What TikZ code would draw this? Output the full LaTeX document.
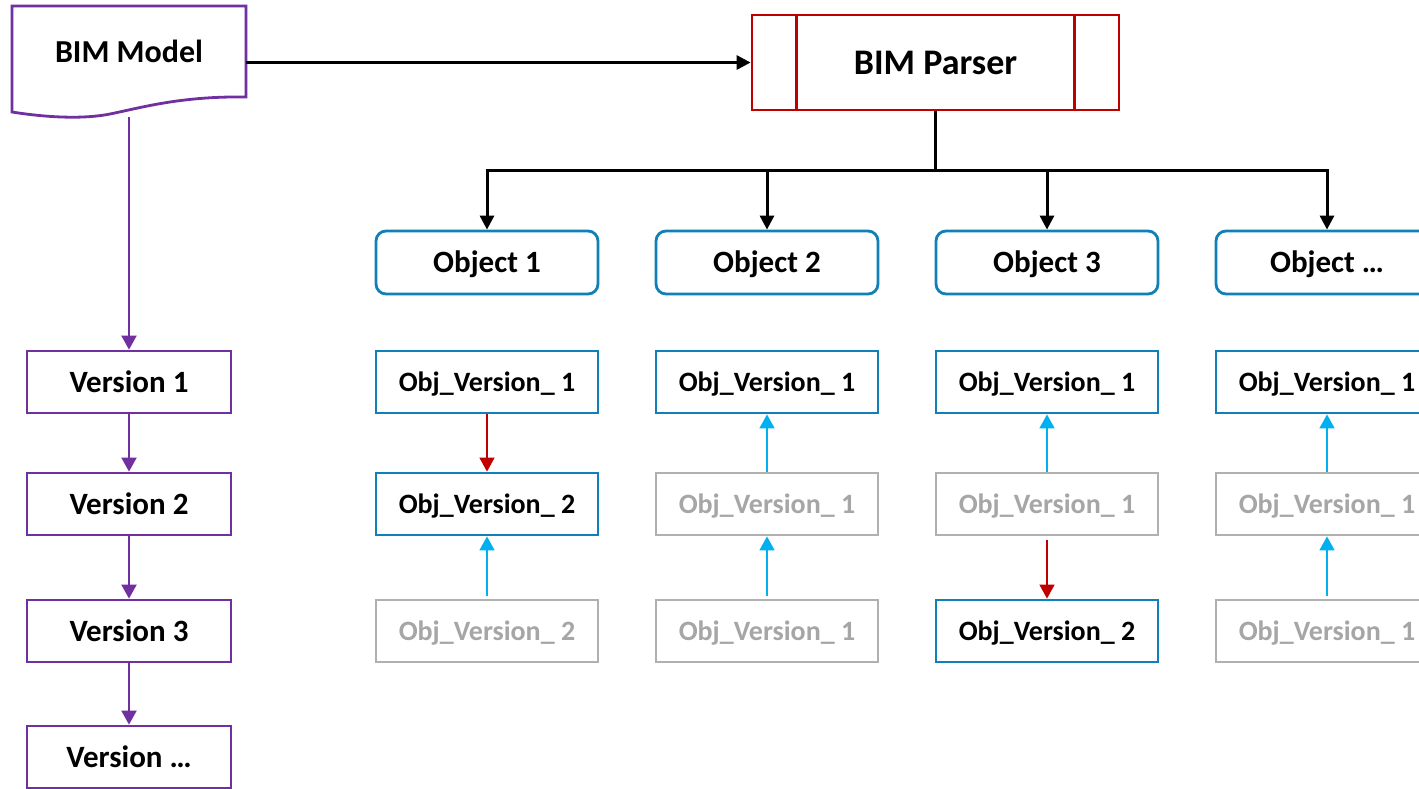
\documentclass[tikz,border=0pt]{standalone}
\usepackage{fontspec}
\setmainfont{Carlito}
\usetikzlibrary{arrows.meta,calc}
\definecolor{bpurple}{RGB}{112,48,160}
\definecolor{bred}{RGB}{192,0,0}
\definecolor{bblue}{RGB}{16,128,182}
\definecolor{bcyan}{RGB}{0,176,240}
\definecolor{bgrey}{RGB}{176,176,176}
\definecolor{bgreytext}{RGB}{166,166,166}
\begin{document}
\begin{tikzpicture}[x=1pt,y=-1pt,
  objbox/.style={text height=20pt, text depth=0pt, draw=bblue, line width=2.8pt, rounded corners=10pt, minimum width=222pt, minimum height=63pt, inner sep=0pt, font=\fontsize{31}{36}\selectfont\bfseries},
  verbox/.style={text height=18pt, text depth=0pt, draw=bblue, line width=2.8pt, minimum width=222pt, minimum height=62pt, inner sep=0pt, font=\fontsize{28}{33}\selectfont\bfseries},
  oldbox/.style={verbox, draw=bgrey, text=bgreytext},
  vbox/.style={text height=20pt, text depth=0pt, draw=bpurple, line width=2.8pt, minimum width=204pt, minimum height=62pt, inner sep=0pt, font=\fontsize{31}{36}\selectfont\bfseries},
  parr/.style={draw=bpurple, line width=2pt, -{Triangle[width=15pt,length=14pt]}},
  karr/.style={draw=black, line width=3pt, -{Triangle[width=14pt,length=14pt]}},
  rarr/.style={draw=bred, line width=1.5pt, -{Triangle[width=15pt,length=14pt]}},
  carr/.style={draw=bcyan, line width=1.5pt, -{Triangle[width=15pt,length=14pt]}},
]
\clip (0,0) rectangle (1419,788);
\fill[white] (0,0) rectangle (1419,788);

% BIM Model document shape
\draw[bpurple, line width=2.8pt] (12,6) -- (246,6) -- (246,97)
  .. controls (180,96) and (140,108) .. (110,114)
  .. controls (85,119) and (50,118) .. (12,112) -- cycle;
\node[text height=20.6pt, text depth=0pt, minimum width=234pt, minimum height=20pt, inner sep=0pt, font=\fontsize{32}{37}\selectfont\bfseries] (bm) at (129,52.5) {BIM Model};
\coordinate (bmbot) at (129,117);

% BIM Parser
\node[text height=23pt, text depth=0pt, draw=bred, line width=2.8pt, minimum width=367pt, minimum height=95pt, inner sep=0pt, font=\fontsize{36}{41}\selectfont\bfseries] (parser) at (935.5,62.5) {BIM Parser};
\draw[bred, line width=2.8pt] ($(parser.north west)+(46,0)$) -- ($(parser.south west)+(46,0)$);
\draw[bred, line width=2.8pt] ($(parser.north east)+(-46,0)$) -- ($(parser.south east)+(-46,0)$);

\draw[karr] (bm.east |- parser.west) -- (parser.west);

% Objects
\node[objbox] (o1) at (487,262.5) {Object 1};
\node[objbox] (o2) at (767,262.5) {Object 2};
\node[objbox] (o3) at (1047,262.5) {Object 3};
\node[objbox] (o4) at (1327,262.5) {Object \dots};

\draw[black, line width=3pt] (parser.south) -- (parser.south |- 0,170) coordinate (bus);
\draw[black, line width=3pt, line cap=rect] (bus -| o1) -- (bus -| o4);
\foreach \o in {o1,o2,o3,o4} \draw[karr] (bus -| \o) -- (\o.north);

% Versions
\node[vbox] (v1) at (129,382) {Version 1};
\node[vbox] (v2) at (129,504) {Version 2};
\node[vbox] (v3) at (129,631) {Version 3};
\node[vbox] (v4) at (129,757) {Version \dots};
\draw[parr] (bmbot) -- (v1.north);
\draw[parr] (v1.south) -- (v2.north);
\draw[parr] (v2.south) -- (v3.north);
\draw[parr] (v3.south) -- (v4.north);

% Column 1
\node[verbox] (a1) at (487,382) {Obj\_Version\_ 1};
\node[verbox] (a2) at (487,504) {Obj\_Version\_ 2};
\node[oldbox] (a3) at (487,631) {Obj\_Version\_ 2};
\draw[rarr] (a1.south) -- (a2.north);
\draw[carr, shorten <=3pt] (a3.north) -- (a2.south);

% Column 2
\node[verbox] (b1) at (767,382) {Obj\_Version\_ 1};
\node[oldbox] (b2) at (767,504) {Obj\_Version\_ 1};
\node[oldbox] (b3) at (767,631) {Obj\_Version\_ 1};
\draw[carr] (b2.north) -- (b1.south);
\draw[carr, shorten <=3pt] (b3.north) -- (b2.south);

% Column 3
\node[verbox] (c1) at (1047,382) {Obj\_Version\_ 1};
\node[oldbox] (c2) at (1047,504) {Obj\_Version\_ 1};
\node[verbox] (c3) at (1047,631) {Obj\_Version\_ 2};
\draw[carr] (c2.north) -- (c1.south);
\draw[rarr, shorten <=4pt] (c2.south) -- (c3.north);

% Column 4
\node[verbox] (d1) at (1327,382) {Obj\_Version\_ 1};
\node[oldbox] (d2) at (1327,504) {Obj\_Version\_ 1};
\node[oldbox] (d3) at (1327,631) {Obj\_Version\_ 1};
\draw[carr] (d2.north) -- (d1.south);
\draw[carr, shorten <=3pt] (d3.north) -- (d2.south);
\end{tikzpicture}
\end{document}
